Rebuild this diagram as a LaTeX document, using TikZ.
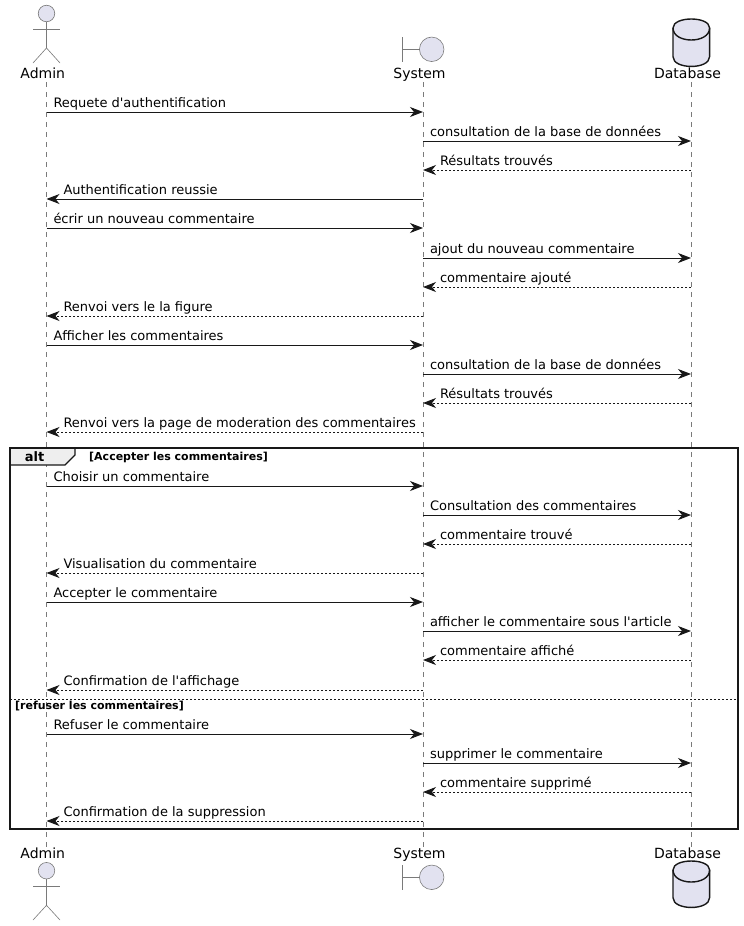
\documentclass[tikz,border=0pt]{standalone}
\usepackage{fontspec}
\usetikzlibrary{arrows.meta}
\newfontfamily\umlfont{DejaVu Sans}
\definecolor{umlink}{HTML}{181818}
\definecolor{umlfill}{HTML}{E2E2F0}
\definecolor{umltab}{HTML}{EEEEEE}
\definecolor{umlgrey}{HTML}{7A7A7A}
\tikzset{
  >={Stealth[length=13pt,width=10pt,inset=4pt]},
  % messages
  req/.style={->,draw=umlink,line width=1pt},
  rep/.style={->,draw=umlink,line width=1pt,dash pattern=on 2pt off 2pt},
  txt/.style={font=\umlfont\fontsize{13}{15}\selectfont,text=black,inner sep=0pt},
  ltr/.style={txt,pos=0,anchor=base west,xshift=6.5pt,yshift=4.5pt},
  rtl/.style={txt,pos=1,anchor=base west,xshift=16.5pt,yshift=4.5pt},
  % participants
  head/.style={txt,font=\umlfont\fontsize{14}{16}\selectfont,anchor=base},
  life/.style={draw=umlgrey,line width=0.6pt,dash pattern=on 5pt off 5pt},
  stick/.style={draw=umlgrey,line width=0.6pt},
  ball/.style={circle,draw=umlgrey,fill=umlfill,line width=0.6pt,inner sep=0pt},
  drum/.style={draw=umlink,fill=umlfill,line width=1.4pt},
  % alt
  frame/.style={draw=umlink,line width=1.6pt},
  tabb/.style={draw=umlink,fill=umltab,line width=1.4pt},
  guard/.style={font=\umlfont\fontsize{11}{13}\selectfont\bfseries,text=black,inner sep=0pt,anchor=base west},
  sep/.style={draw=umlink,line width=1pt,dash pattern=on 2pt off 2pt},
}
\begin{document}
\begin{tikzpicture}[x=1pt,y=-1pt]
\useasboundingbox (0,0) rectangle (744,926);
  % lifelines
  \coordinate (admintop) at (46.5,82);
  \coordinate (adminbot) at (46.5,847);
  \coordinate (systop) at (423,82);
  \coordinate (sysbot) at (423,847);
  \coordinate (dbtop) at (691,82);
  \coordinate (dbbot) at (691,847);
  \draw[life] (admintop) -- (adminbot);
  \draw[life] (systop) -- (sysbot);
  \draw[life] (dbtop) -- (dbbot);
  \foreach \y in {112,141,170,199,228,258,287,316,345,374,403,432,486,515,544,573,602,631,660,690,734,763,792,821} {
    \coordinate (a\y) at (46.5,\y);
    \coordinate (s\y) at (423,\y);
    \coordinate (d\y) at (691,\y);
  }
  % alt frame
  \coordinate (fnw) at (10,448);
  \coordinate (fse) at (738,829);
  \coordinate (tabe) at (75,448);
  \coordinate (tabr) at (75,455);
  \coordinate (tabs) at (65,465);
  \coordinate (tabw) at (10,465);
  \coordinate (sepw) at (10,699);
  \coordinate (sepe) at (738,699);
  \draw[tabb] (fnw) -- (tabe) -- (tabr) -- (tabs) -- (tabw) -- cycle;
  \draw[frame] (fnw) rectangle (fse);
  \draw[sep] (sepw) -- (sepe);
  \node[txt,font=\umlfont\fontsize{13}{15}\selectfont\bfseries,anchor=base] (alt) at (34.5,461) {alt};
  \node[guard] (g1) at (89,460) {[Accepter les commentaires]};
  \node[guard] (g2) at (15,709) {[refuser les commentaires]};
  % messages
  \draw[req] (a112) -- node[ltr] (m1) {Requete d'authentification} (s112);
  \draw[req] (s141) -- node[ltr] (m2) {consultation de la base de données} (d141);
  \draw[rep] (d170) -- node[rtl] (m3) {Résultats trouvés} (s170);
  \draw[req] (s199) -- node[rtl] (m4) {Authentification reussie} (a199);
  \draw[req] (a228) -- node[ltr] (m5) {écrir un nouveau commentaire} (s228);
  \draw[req] (s258) -- node[ltr] (m6) {ajout du nouveau commentaire} (d258);
  \draw[rep] (d287) -- node[rtl] (m7) {commentaire ajouté} (s287);
  \draw[rep] (s316) -- node[rtl] (m8) {Renvoi vers le la figure} (a316);
  \draw[req] (a345) -- node[ltr] (m9) {Afficher les commentaires} (s345);
  \draw[req] (s374) -- node[ltr] (m10) {consultation de la base de données} (d374);
  \draw[rep] (d403) -- node[rtl] (m11) {Résultats trouvés} (s403);
  \draw[rep] (s432) -- node[rtl] (m12) {Renvoi vers la page de moderation des commentaires} (a432);
  \draw[req] (a486) -- node[ltr] (m13) {Choisir un commentaire} (s486);
  \draw[req] (s515) -- node[ltr] (m14) {Consultation des commentaires} (d515);
  \draw[rep] (d544) -- node[rtl] (m15) {commentaire trouvé} (s544);
  \draw[rep] (s573) -- node[rtl] (m16) {Visualisation du commentaire} (a573);
  \draw[req] (a602) -- node[ltr] (m17) {Accepter le commentaire} (s602);
  \draw[req] (s631) -- node[ltr] (m18) {afficher le commentaire sous l'article} (d631);
  \draw[rep] (d660) -- node[rtl] (m19) {commentaire affiché} (s660);
  \draw[rep] (s690) -- node[rtl] (m20) {Confirmation de l'affichage} (a690);
  \draw[req] (a734) -- node[ltr] (m21) {Refuser le commentaire} (s734);
  \draw[req] (s763) -- node[ltr] (m22) {supprimer le commentaire} (d763);
  \draw[rep] (d792) -- node[rtl] (m23) {commentaire supprimé} (s792);
  \draw[rep] (s821) -- node[rtl] (m24) {Confirmation de la suppression} (a821);
  % top participants
  \node[head] (admint) at (42.8,78) {Admin};
  \node[head] (syst) at (419.5,78) {System};
  \node[head] (dbt) at (687.5,78) {Database};
  \node[ball,minimum size=16.5pt] (actt) at (46.5,13.5) {};
  \coordinate (hipt) at (46.5,48);
  \coordinate (armlt) at (33,29);
  \coordinate (armrt) at (60,29);
  \coordinate (leglt) at (33,63);
  \coordinate (legrt) at (60,63);
  \draw[stick] (actt) -- (hipt);
  \draw[stick] (armlt) -- (armrt);
  \draw[stick] (leglt) -- (hipt) -- (legrt);
  \node[ball,minimum size=24.5pt] (bndt) at (431.7,49.3) {};
  \coordinate (barnt) at (402.3,37);
  \coordinate (barst) at (402.3,61.5);
  \coordinate (barmt) at (402.3,49.3);
  \draw[stick] (barnt) -- (barst);
  \draw[stick] (barmt) -- (bndt);
  \draw[drum] (673,28) .. controls (673,16) and (709.6,16) .. (709.6,28)
    -- (709.6,56.7) .. controls (709.6,69.7) and (673,69.7) .. (673,56.7) -- cycle;
  \draw[drum,fill=none] (673,28) .. controls (673,44) and (709.6,44) .. (709.6,28);
  % bottom participants
  \node[head] (adminb) at (42.8,858) {Admin};
  \node[head] (sysb) at (419.5,858) {System};
  \node[head] (dbb) at (687.5,858) {Database};
  \node[ball,minimum size=16.5pt] (actb) at (46.5,870.7) {};
  \coordinate (hipb) at (46.5,905.3);
  \coordinate (armlb) at (33,886);
  \coordinate (armrb) at (60,886);
  \coordinate (leglb) at (33,920);
  \coordinate (legrb) at (60,920);
  \draw[stick] (actb) -- (hipb);
  \draw[stick] (armlb) -- (armrb);
  \draw[stick] (leglb) -- (hipb) -- (legrb);
  \node[ball,minimum size=24.5pt] (bndb) at (431.7,877.3) {};
  \coordinate (barnb) at (402.3,865);
  \coordinate (barsb) at (402.3,889.5);
  \coordinate (barmb) at (402.3,877.3);
  \draw[stick] (barnb) -- (barsb);
  \draw[stick] (barmb) -- (bndb);
  \draw[drum] (673,870) .. controls (673,858) and (709.6,858) .. (709.6,870)
    -- (709.6,897.7) .. controls (709.6,910.7) and (673,910.7) .. (673,897.7) -- cycle;
  \draw[drum,fill=none] (673,870) .. controls (673,886) and (709.6,886) .. (709.6,870);
\end{tikzpicture}
\end{document}
